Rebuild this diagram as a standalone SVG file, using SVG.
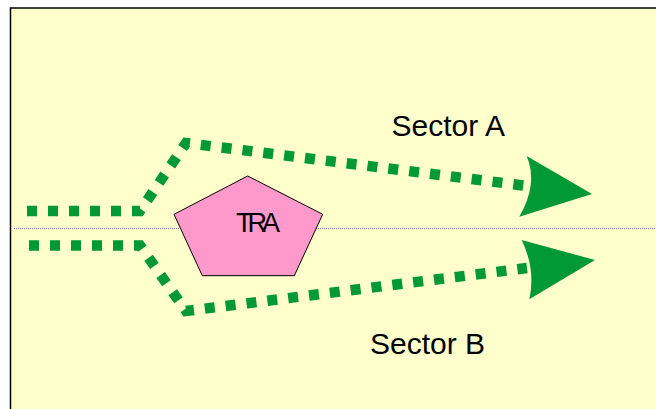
<svg xmlns="http://www.w3.org/2000/svg" width="656" height="409" viewBox="0 0 656 409">
  <style>
    .flow { fill: none; stroke: #009933; stroke-width: 10.5; stroke-dasharray: 10 11; stroke-linejoin: miter; stroke-linecap: butt; }
    .head { fill: #009933; stroke: none; }
    .label { font-family: "Liberation Sans", Arial, sans-serif; fill: #000000; }
  </style>
  <!-- page background and frame -->
  <rect x="0" y="0" width="656" height="409" fill="#ffffff"/>
  <rect x="10.5" y="8" width="660" height="420" fill="#ffffcc" stroke="#000000" stroke-width="1.5"/>
  <!-- centre axis -->
  <line x1="14" y1="228.5" x2="656" y2="228.5" stroke="#6f6fff" stroke-width="1" stroke-dasharray="1 1"/>

  <g id="connectors">
    <path class="flow" d="M27,211 H140 L186,143 L527,186"/>
    <path class="head" d="M592,194 L526.7,156 Q538.4,183.7 519.3,216.7 Z"/>
    <path class="flow" d="M29,245.5 H140 L186,311 L527,268"/>
    <path class="head" d="M595,260 L521.7,240 Q536,270 529.3,299.3 Z"/>
  </g>

  <g id="tra">
    <polygon points="247.7,176 322.7,214.3 294.3,275.7 202.3,275.7 174,214.3" fill="#ff99cc" stroke="#000000" stroke-width="1"/>
    <text class="label" x="236" y="232.3" font-size="27" letter-spacing="-5">TRA</text>
  </g>

  <g id="sector-a">
    <text class="label" x="391.5" y="136" font-size="30">Sector A</text>
  </g>

  <g id="sector-b">
    <text class="label" x="370" y="354" font-size="30">Sector B</text>
  </g>
</svg>
